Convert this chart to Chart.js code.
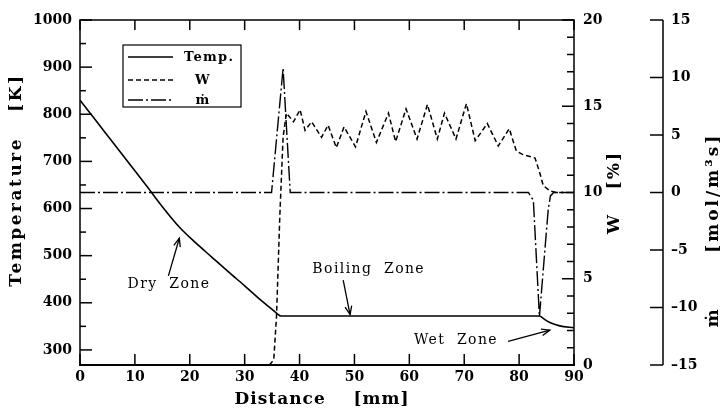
<!DOCTYPE html>
<html><head><meta charset="utf-8">
<script src="https://cdn.jsdelivr.net/npm/chart.js@4.4.1/dist/chart.umd.min.js"></script>
<style>html,body{margin:0;padding:0;background:#fff}canvas{display:block}</style>
</head><body>
<canvas id="c" width="725" height="412"></canvas>
<script>
// ---- data ----
const tempDistance = [0, 3, 6, 9, 12, 15, 18, 21, 24, 27, 30, 33, 35, 36, 36.6, 83.7, 84.5, 85.6, 87.4, 90];
const temperature  = [830, 785, 740, 695, 650, 604, 562, 528, 497, 466, 436, 405, 386, 376, 372, 372, 366, 358, 351, 347];

const wDistance = [34.5, 35.3, 35.8, 36.4, 37.0, 37.6, 38.9, 40.1, 41.0, 42.2, 44.0, 45.2, 46.7, 48.1, 50.2, 52.1, 54.0, 56.2, 57.5, 59.4, 61.4, 63.3, 65.1, 66.4, 68.5, 70.4, 72.0, 74.2, 76.2, 78.2, 79.5, 80.7, 82.9, 83.8, 84.4, 85.6, 86.8, 88];
const wPercent  = [0, 0.3, 2.8, 8.6, 13.2, 14.6, 14.1, 14.8, 13.6, 14.1, 13.2, 13.9, 12.6, 13.8, 12.65, 14.7, 12.9, 14.6, 12.95, 14.85, 13.1, 15.1, 13.1, 14.6, 13.1, 15.15, 13.0, 14.0, 12.7, 13.7, 12.4, 12.2, 12.0, 11.1, 10.4, 10.1, 10.0, 10.0];

const mDistance = [0, 34.9, 37.0, 38.3, 81.7, 82.6, 83.7, 85.3, 85.7, 86.3, 90];
const mRate     = [0, 0, 10.8, 0, 0, -0.7, -10.8, -1.5, -0.3, 0, 0];

const distanceTicks    = [0, 10, 20, 30, 40, 50, 60, 70, 80, 90];
const temperatureTicks = [300, 400, 500, 600, 700, 800, 900, 1000];
const wTicks           = [0, 5, 10, 15, 20];
const mTicks           = [-15, -10, -5, 0, 5, 10, 15];

const seriesLabels = ['Temp.', 'W', 'ṁ'];
const titleX  = 'Distance    [mm]';
const titleT  = 'Temperature   [K]';
const titleW  = 'W   [%]';
const titleM  = 'ṁ      [mol/m³s]';
const zoneLabels = ['Dry  Zone', 'Boiling  Zone', 'Wet  Zone'];

// ---- build ----
const pts = (xs, ys) => xs.map((x, i) => ({x, y: ys[i]}));
const SERIF = "'DejaVu Serif', 'Liberation Serif', serif";

const zoneNotes = [
  {text: zoneLabels[0], at: [16.2, 440], from: [16.1, 457], to: [18.1, 537]},
  {text: zoneLabels[1], at: [52.6, 470], from: [47.95, 448], to: [49.2, 375]},
  {text: zoneLabels[2], at: [68.5, 321], from: [78.0, 318], to: [85.6, 342]}
];

function seg(ctx, x1, y1, x2, y2) { ctx.beginPath(); ctx.moveTo(x1, y1); ctx.lineTo(x2, y2); ctx.stroke(); }

const paperPlugin = {
  id: 'paper',
  afterDatasetsDraw(chart) {
    const {ctx, chartArea: a, scales} = chart;
    const xs = scales.x, yT = scales.yT, yW = scales.yW, yM = scales.yM;
    ctx.save();
    ctx.strokeStyle = '#000';
    ctx.setLineDash([]);
    // frame
    ctx.lineWidth = 1.5;
    ctx.strokeRect(a.left, a.top, a.right - a.left, a.bottom - a.top);
    ctx.lineWidth = 2;
    seg(ctx, a.left - 1, a.bottom, a.right + 1, a.bottom);
    ctx.lineWidth = 1.5;
    // left ticks (major 100, minor 50)
    for (let v = temperatureTicks[0]; v <= temperatureTicks[temperatureTicks.length - 1]; v += 50) {
      const y = yT.getPixelForValue(v);
      const len = v % 100 === 0 ? 12 : 6;
      seg(ctx, a.left, y, a.left + len, y);
    }
    // right W ticks (every 1, major every 5)
    for (let v = wTicks[0]; v <= wTicks[wTicks.length - 1]; v += 1) {
      const y = yW.getPixelForValue(v);
      const len = v % 5 === 0 ? 12 : 7;
      seg(ctx, a.right, y, a.right - len, y);
    }
    // bottom & top ticks
    distanceTicks.forEach(v => {
      const x = xs.getPixelForValue(v);
      seg(ctx, x, a.bottom, x, a.bottom - 11);
      seg(ctx, x, a.top, x, a.top + 10);
    });
    // separate m-dot axis
    const mx = yM.left;
    seg(ctx, mx, yM.getPixelForValue(mTicks[mTicks.length - 1]), mx, yM.getPixelForValue(mTicks[0]));
    mTicks.forEach(v => {
      const y = yM.getPixelForValue(v);
      seg(ctx, mx - 13, y, mx, y);
    });

    // zone annotations
    ctx.fillStyle = '#000';
    ctx.font = '14px ' + SERIF;
    ctx.letterSpacing = '1.4px';
    ctx.textAlign = 'center';
    ctx.textBaseline = 'middle';
    ctx.lineWidth = 1.3;
    zoneNotes.forEach(n => {
      ctx.fillText(n.text, xs.getPixelForValue(n.at[0]), yT.getPixelForValue(n.at[1]));
      const x1 = xs.getPixelForValue(n.from[0]), y1 = yT.getPixelForValue(n.from[1]);
      const x2 = xs.getPixelForValue(n.to[0]), y2 = yT.getPixelForValue(n.to[1]);
      seg(ctx, x1, y1, x2, y2);
      const ang = Math.atan2(y2 - y1, x2 - x1);
      const h = 9, sp = 0.38;
      ctx.beginPath();
      ctx.moveTo(x2 - h * Math.cos(ang - sp), y2 - h * Math.sin(ang - sp));
      ctx.lineTo(x2, y2);
      ctx.lineTo(x2 - h * Math.cos(ang + sp), y2 - h * Math.sin(ang + sp));
      ctx.stroke();
    });

    // legend box
    const lx = 123, ly = 45, lw = 118, lh = 62;
    ctx.lineWidth = 1.2;
    ctx.strokeRect(lx, ly, lw, lh);
    const rows = [57, 80, 100];
    ctx.font = 'bold 13px ' + SERIF;
    chart.data.datasets.forEach((ds, i) => {
      ctx.save();
      ctx.lineWidth = ds.borderWidth;
      ctx.setLineDash(ds.borderDash || []);
      seg(ctx, lx + 5, rows[i], lx + 50, rows[i]);
      ctx.restore();
      ctx.letterSpacing = '1.3px';
      if (i === 0) { ctx.textAlign = 'left'; ctx.fillText(ds.label, lx + 61, rows[i] + 1); }
      else { ctx.textAlign = 'center'; ctx.fillText(ds.label, lx + 80, rows[i] + 1); }
    });

    // axis titles
    ctx.font = 'bold 17px ' + SERIF;
    ctx.textAlign = 'center';
    ctx.textBaseline = 'middle';
    ctx.letterSpacing = '1px';
    ctx.fillText(titleX, 322, 400);
    const vtext = (t, x, y, sp) => {
      ctx.save(); ctx.translate(x, y); ctx.rotate(-Math.PI / 2);
      ctx.letterSpacing = sp; ctx.fillText(t, 0, 0); ctx.restore();
    };
    vtext(titleT, 17, 180, '2.5px');
    vtext(titleW, 615, yW.getPixelForValue(10), '2px');
    vtext(titleM, 714, 230, '3px');
    ctx.restore();
  }
};

const tickFont = {family: SERIF, size: 14, weight: 'bold'};
const ctx = document.getElementById('c').getContext('2d');
const chart = new Chart(ctx, {
  type: 'line',
  data: {
    datasets: [
      {label: seriesLabels[0], data: pts(tempDistance, temperature), yAxisID: 'yT',
       borderColor: '#000', borderWidth: 1.6, pointRadius: 0, cubicInterpolationMode: 'monotone', fill: false},
      {label: seriesLabels[1], data: pts(wDistance, wPercent), yAxisID: 'yW',
       borderColor: '#000', borderWidth: 1.5, borderDash: [5, 3], pointRadius: 0, tension: 0, fill: false},
      {label: seriesLabels[2], data: pts(mDistance, mRate), yAxisID: 'yM',
       borderColor: '#000', borderWidth: 1.4, borderDash: [15, 3, 2, 3], pointRadius: 0, tension: 0, fill: false}
    ]
  },
  options: {
    responsive: false,
    animation: false,
    events: [],
    layout: {padding: {top: 20, left: 0, right: 0, bottom: 0}},
    plugins: {legend: {display: false}, tooltip: {enabled: false}},
    scales: {
      x: {
        type: 'linear', position: 'bottom', min: 0, max: 90,
        afterBuildTicks: s => { s.ticks = distanceTicks.map(v => ({value: v})); },
        afterFit: s => { s.height = 47; },
        ticks: {font: tickFont, color: '#000', padding: 4, maxRotation: 0, autoSkip: false, callback: v => String(v)},
        grid: {display: false, drawTicks: false}, border: {display: false},
        title: {display: false, text: titleX}
      },
      yT: {
        type: 'linear', position: 'left', min: 268, max: 1000,
        afterBuildTicks: s => { s.ticks = temperatureTicks.map(v => ({value: v})); },
        afterFit: s => { s.width = 80; },
        ticks: {font: tickFont, color: '#000', padding: 8, autoSkip: false, callback: v => String(v)},
        grid: {display: false, drawTicks: false}, border: {display: false},
        title: {display: false, text: titleT}
      },
      yW: {
        type: 'linear', position: 'right', min: 0, max: 20,
        afterBuildTicks: s => { s.ticks = wTicks.map(v => ({value: v})); },
        afterFit: s => { s.width = 89; },
        ticks: {font: tickFont, color: '#000', padding: 9, autoSkip: false, callback: v => String(v)},
        grid: {display: false, drawTicks: false}, border: {display: false},
        title: {display: false, text: titleW}
      },
      yM: {
        type: 'linear', position: 'right', min: -15, max: 15,
        afterBuildTicks: s => { s.ticks = mTicks.map(v => ({value: v})); },
        afterFit: s => { s.width = 62; },
        ticks: {font: tickFont, color: '#000', padding: 8, autoSkip: false,
                callback: v => v < 0 ? '\u2013' + Math.abs(v) : String(v)},
        grid: {display: false, drawTicks: false}, border: {display: false},
        title: {display: false, text: titleM}
      }
    }
  },
  plugins: [paperPlugin]
});
</script>
</body></html>
